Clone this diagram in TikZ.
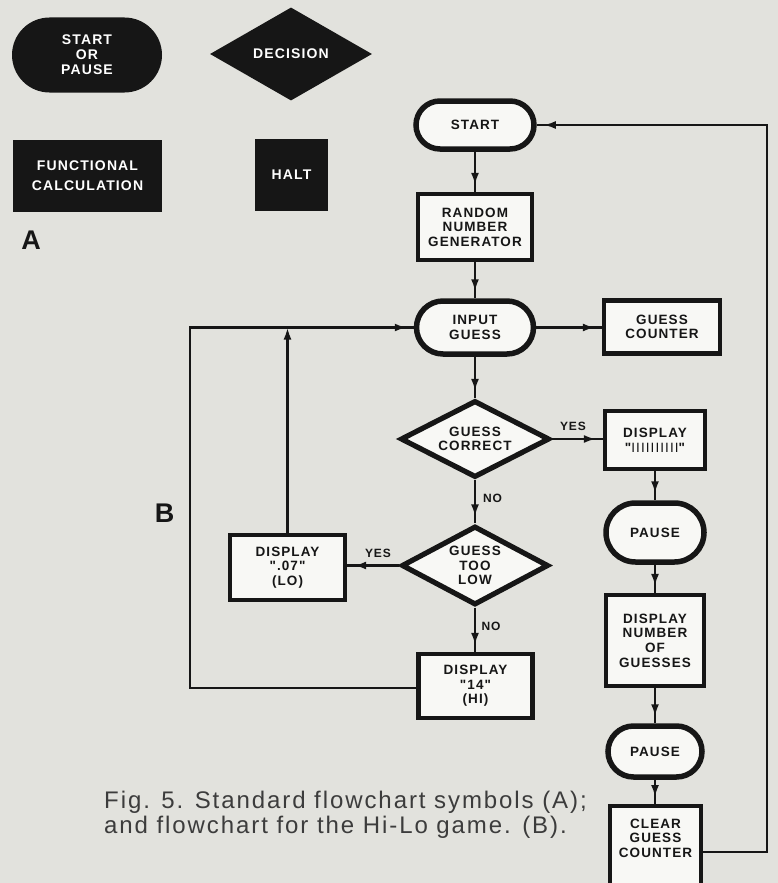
\documentclass[tikz,border=0pt]{standalone}
\usepackage{fontspec}
\setmainfont{Liberation Sans}
\newfontfamily\boxfont[LetterSpace=8]{Liberation Sans}
\newfontfamily\capfont[LetterSpace=8]{Liberation Sans}
\usetikzlibrary{shapes.misc,shapes.geometric,arrows.meta,decorations.markings}
\definecolor{paper}{RGB}{226,226,221}
\definecolor{ink}{RGB}{22,22,22}
\definecolor{boxfill}{RGB}{248,248,245}
\definecolor{captext}{RGB}{60,60,60}
\begin{document}
\begin{tikzpicture}[x=1pt,y=-1pt,
  btxt/.style={font=\boxfont\bfseries\fontsize{13.5}{14.6}\selectfont, text=ink, align=center, inner sep=0pt},
  term/.style={btxt, rounded rectangle, draw=ink, line width=5.5pt, fill=boxfill},
  proc/.style={btxt, rectangle, draw=ink, line width=4.2pt, fill=boxfill},
  dec/.style={btxt, diamond, aspect=1.9, draw=ink, line width=5.2pt, fill=boxfill},
  sym/.style={font=\boxfont\bfseries\fontsize{14}{15}\selectfont, text=white, fill=ink, align=center, inner sep=0pt},
  lbl/.style={font=\boxfont\bfseries\fontsize{12}{12}\selectfont, text=ink, inner sep=0pt},
  big/.style={font=\fontsize{27}{27}\selectfont\bfseries, text=ink, inner sep=0pt},
  captxt/.style={font=\capfont\fontsize{24}{25}\selectfont, text=captext, inner sep=0pt, anchor=base west},
  conn/.style={draw=ink, line width=2.3pt},
  arr/.style={conn, decoration={markings, mark=at position -7pt with {\arrow{Latex[length=12pt,width=8pt]}}}, postaction={decorate}},
]
\fill[paper] (0,0) rectangle (778,883);
\useasboundingbox (0,0) rectangle (778,883);

% Panel A
\node[sym, rounded rectangle, minimum width=150pt, minimum height=75pt] (aterm) at (87,55) {START\\OR\\PAUSE};
\node[sym, diamond, aspect=1.7, minimum width=162pt, minimum height=93pt] (adec) at (291,54) {DECISION};
\node[sym, minimum width=149pt, minimum height=72pt] (aproc) at (87.5,176) {FUNCTIONAL\\[5pt]CALCULATION};
\node[sym, minimum width=73pt, minimum height=72pt] (ahalt) at (291.5,175) {HALT};
\node[big] (labA) at (31,240) {A};
\node[big] (labB) at (164.5,513.5) {B};

% Panel B nodes
\node[term, minimum width=118pt, minimum height=48pt] (start) at (475,125) {START};
\node[proc, minimum width=114pt, minimum height=66pt] (rng) at (475,227) {RANDOM\\NUMBER\\GENERATOR};
\node[term, minimum width=117pt, minimum height=53pt] (input) at (475,327.5) {INPUT\\GUESS};
\node[proc, minimum width=116pt, minimum height=53pt] (counter) at (662,327) {GUESS\\COUNTER};
\node[dec, minimum width=149pt, minimum height=77pt] (correct) at (475,439) {GUESS\\CORRECT};
\node[dec, minimum width=147pt, minimum height=79pt] (toolow) at (475,565.5) {GUESS\\TOO\\LOW};
\node[proc, minimum width=115pt, minimum height=65pt] (lo) at (287.5,567.5) {DISPLAY\\".07"\\(LO)};
\node[proc, minimum width=114pt, minimum height=64pt] (hi) at (475.5,686) {DISPLAY\\"14"\\(HI)};
\node[proc, minimum width=100pt, minimum height=58pt] (disp) at (655,440) {DISPLAY\\"{\mdseries IIIIIIIIII}"};
\node[term, minimum width=98pt, minimum height=59pt] (pause1) at (655,532.5) {PAUSE};
\node[proc, minimum width=98pt, minimum height=91pt] (dnum) at (655,640.5) {DISPLAY\\NUMBER\\OF\\GUESSES};
\node[term, minimum width=94pt, minimum height=51pt] (pause2) at (655,751.5) {PAUSE};
\node[proc, minimum width=91pt, minimum height=88pt, anchor=north] (clear) at (655.5,804) {};
\node[btxt] (cleartxt) at (655.5,838) {CLEAR\\GUESS\\COUNTER};

% Connector labels
\node[lbl] (yes1) at (573,426) {YES};
\node[lbl] (no1) at (492.5,498) {NO};
\node[lbl] (yes2) at (378,553) {YES};
\node[lbl] (no2) at (491,626) {NO};

% Connectors
\draw[arr] (start.south) -- (start.south |- rng.north);
\draw[arr] (rng.south) -- (rng.south |- input.north);
\draw[arr] (input.east) -- (input.east -| counter.west);
\draw[arr] (input.south) -- (input.south |- correct.north);
\draw[arr] (correct.east) -- (correct.east -| disp.west);
\draw[arr] (correct.south) -- (correct.south |- toolow.north);
\draw[arr] (toolow.west) -- (toolow.west -| lo.east);
\draw[arr] (toolow.south) -- (toolow.south |- hi.north);
\draw[arr] (disp.south) -- (disp.south |- pause1.north);
\draw[arr] (pause1.south) -- (pause1.south |- dnum.north);
\draw[arr] (dnum.south) -- (dnum.south |- pause2.north);
\draw[arr] (pause2.south) -- (pause2.south |- clear.north);

\coordinate (rr) at (767,852);
\draw[arr] (clear.east |- rr) -- (rr) -- (rr |- start.east) -- (start.east);
\coordinate (ll) at (190,688);
\draw[arr] (hi.west |- ll) -- (ll) -- (ll |- input.west) -- (input.west);
\draw[conn, -{Latex[length=12pt,width=8pt]}] (lo.north) -- (lo.north |- input.west);

% Caption
\node[captxt] (cap1) at (104,808) {Fig. 5. Standard flowchart symbols (A);};
\node[captxt] (cap2) at (104,833) {and flowchart for the Hi-Lo game. (B).};
\end{tikzpicture}
\end{document}
